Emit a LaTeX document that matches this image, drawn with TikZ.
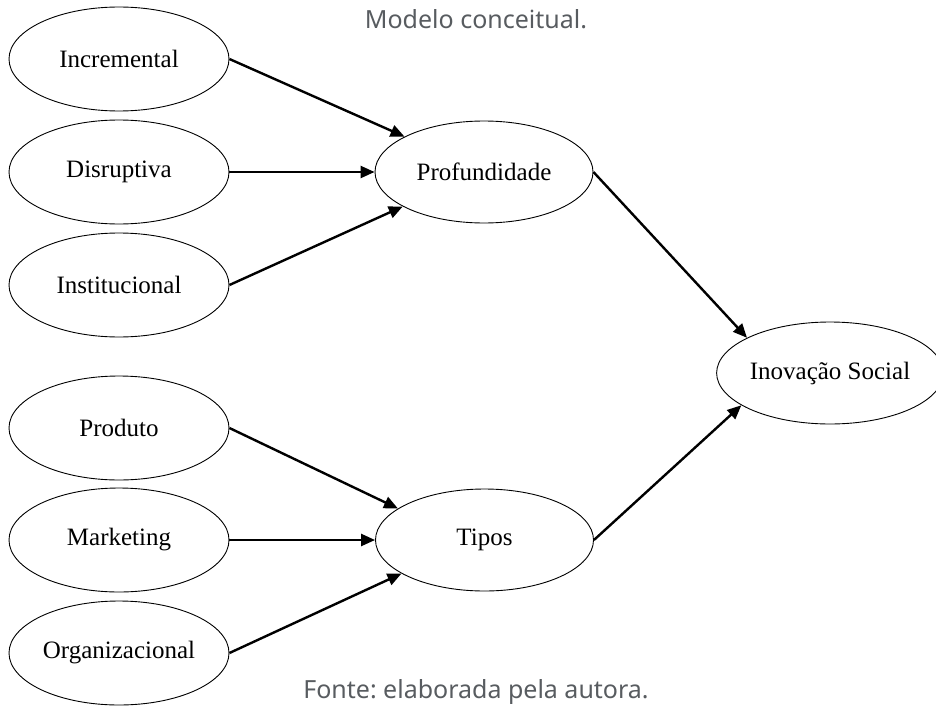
\documentclass[tikz,border=0pt]{standalone}
\usepackage{fontspec}
\setmainfont{Liberation Serif}
\newfontfamily\capfont{Noto Sans}
\usetikzlibrary{arrows.meta,shapes.geometric}
\definecolor{capgray}{RGB}{88,92,96}
\frenchspacing
\tikzset{
  ov/.style={ellipse,draw,line width=0.9pt,inner sep=0pt,minimum width=220pt,minimum height=104pt,font=\fontsize{25}{29}\selectfont},
  mid/.style={ov,minimum width=218pt,minimum height=102pt},
  conn/.style={line width=2.4pt,-{Triangle[length=14pt,width=12pt]}},
  captext/.style={font=\capfont\fontsize{25}{29}\selectfont,text=capgray,inner sep=0pt}
}
\begin{document}
\begin{tikzpicture}[x=1pt,y=-1pt]
\useasboundingbox (0,0) rectangle (936,706);
\node[captext] (title) at (476,19) {Modelo conceitual.};
\node[captext] (fonte) at (476,692) {Fonte: elaborada pela autora.};
\node[ov] (inc) at (119,59) {Incremental};
\node[ov] (dis) at (119,172) {Disruptiva};
\node[ov] (ins) at (119,285) {Institucional};
\node[ov] (pro) at (119,428) {Produto};
\node[ov] (mar) at (119,540) {Marketing};
\node[ov] (org) at (119,653) {Organizacional};
\node[mid] (prof) at (484,172) {Profundidade};
\node[mid] (tip) at (484.5,540) {Tipos};
\node[mid,minimum width=210pt] (inov) at (830,373) {Inovação Social};
\draw[conn] (inc.east) -- (prof.156);
\draw[conn] (dis.east) -- (prof.180);
\draw[conn] (ins.east) -- (prof.203.5);
\draw[conn] (pro.east) -- (tip.160);
\draw[conn] (mar.east) -- (tip.180);
\draw[conn] (org.east) -- (tip.202.5);
\draw[conn] (prof.east) -- (inov.157.5);
\draw[conn] (tip.east) -- (inov.200.5);
\end{tikzpicture}
\end{document}
